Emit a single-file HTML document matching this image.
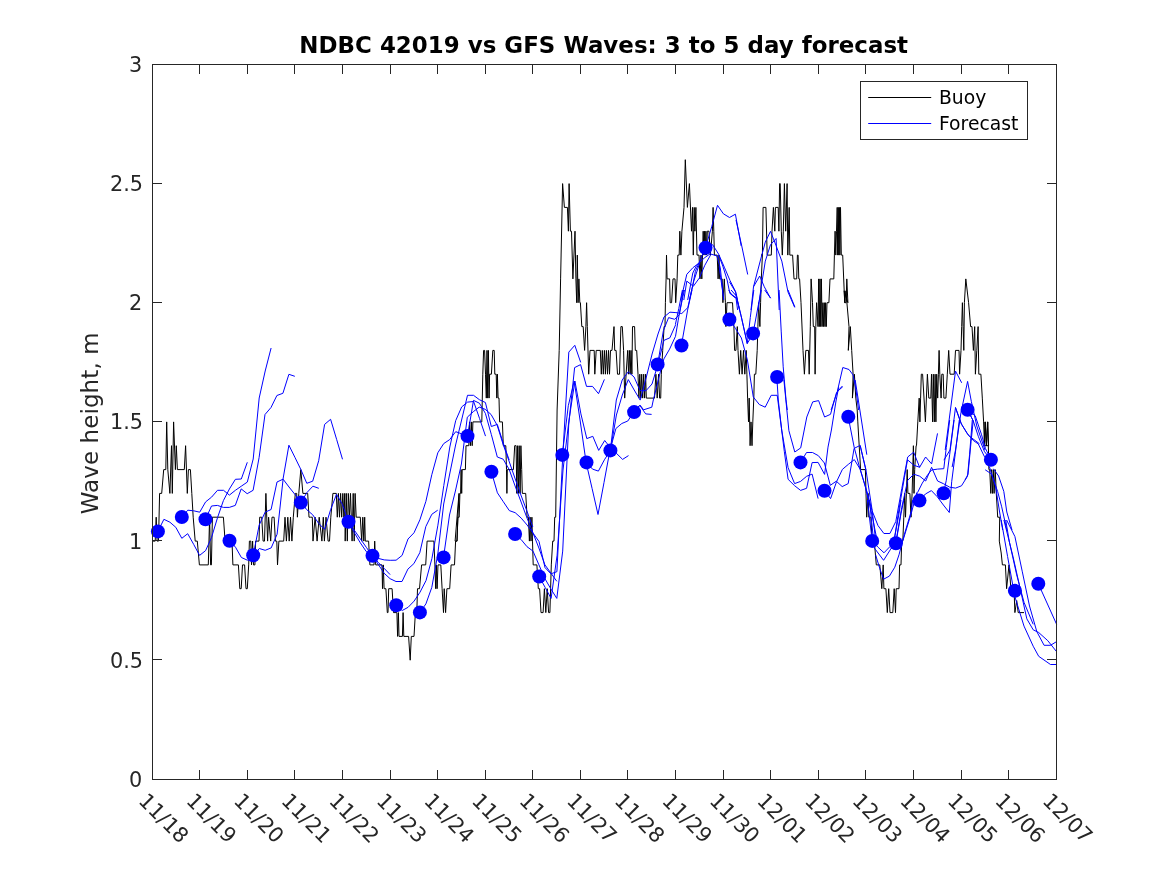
<!DOCTYPE html><html><head><meta charset="utf-8"><title>NDBC 42019 vs GFS Waves</title>
<style>html,body{margin:0;padding:0;background:#fff;}svg{display:block;font-family:"DejaVu Sans","Liberation Sans",sans-serif;}</style></head><body>
<svg width="1167" height="875" viewBox="0 0 1167 875">
<rect width="1167" height="875" fill="#fff"/>
<g fill="none" stroke-linejoin="round" stroke-width="1.0">
<polyline stroke="#000" points="152.7,541.1 155.2,541.1 156.2,517.2 157.1,541.1 158.5,541.1 159.6,493.4 161.7,493.4 163.7,469.6 165.8,469.6 166.7,421.9 167.8,469.6 169.9,493.4 171.5,445.7 172.3,493.4 173.6,421.9 175.4,469.6 176.3,445.7 177.4,469.6 184.3,469.6 185.6,445.7 187.3,493.4 188.4,469.6 190.4,469.6 191.8,493.4 193.2,517.2 195.2,541.1 197.3,541.1 199.4,564.9 208.3,564.9 209.6,517.2 210.6,564.9 211.4,564.9 212.4,517.2 223.4,517.2 225.1,541.1 232.0,541.1 232.9,564.9 238.4,564.9 239.8,588.7 241.2,588.7 242.5,564.9 244.6,564.9 246.0,588.7 247.3,588.7 248.7,564.9 249.4,541.1 250.8,541.1 251.5,564.9 252.6,541.1 253.5,564.9 254.9,564.9 255.6,541.1 259.0,541.1 259.7,517.2 261.7,517.2 263.1,541.1 264.5,541.1 265.9,493.4 267.6,541.1 268.6,517.2 270.7,541.1 272.0,517.2 274.1,517.2 275.4,541.1 276.8,541.1 277.5,564.9 278.9,541.1 283.7,541.1 285.0,517.2 286.4,541.1 287.8,517.2 289.2,541.1 290.5,517.2 291.9,541.1 293.3,517.2 295.3,493.4 296.7,493.4 297.4,517.2 298.8,493.4 300.8,469.6 302.9,493.4 307.7,493.4 309.0,517.2 310.3,517.2 312.3,517.2 313.0,541.1 315.1,517.2 317.1,541.1 319.2,517.2 321.9,541.1 323.3,517.2 324.4,541.1 326.0,517.2 328.1,541.1 329.5,541.1 330.8,517.2 332.9,493.4 336.3,493.4 337.3,517.2 338.4,493.4 339.5,517.2 340.6,493.4 341.7,517.2 342.8,493.4 343.9,517.2 344.7,493.4 345.2,541.1 346.3,493.4 347.3,541.1 348.3,493.4 349.4,517.2 350.5,493.4 352.1,541.1 353.2,493.4 354.2,541.1 355.1,493.4 356.2,517.2 360.3,517.2 361.7,541.1 362.8,517.2 363.8,541.1 364.7,517.2 365.3,541.1 368.6,541.1 369.9,564.9 374.0,564.9 374.7,541.1 375.7,564.9 382.0,564.9 382.5,588.7 383.3,564.9 384.1,588.7 385.9,588.7 387.3,612.6 388.0,612.6 388.7,588.7 392.1,588.7 393.5,612.6 396.9,612.6 397.6,636.4 398.4,612.6 399.0,636.4 402.4,636.4 403.1,612.6 403.8,636.4 408.6,636.4 410.2,660.2 411.3,636.4 414.0,636.4 415.4,612.6 416.8,612.6 417.5,588.7 419.5,588.7 421.6,564.9 425.7,564.9 427.1,541.1 433.9,541.1 434.9,564.9 435.7,588.7 436.4,564.9 437.1,588.7 438.0,564.9 440.8,564.9 442.1,588.7 443.5,612.6 444.2,588.7 445.6,612.6 446.9,588.7 449.7,588.7 451.1,564.9 454.5,564.9 455.6,541.1 456.9,541.1 459.0,493.4 455.1,541.1 457.1,541.1 457.8,517.2 459.2,517.2 459.9,493.4 460.6,493.4 461.1,469.6 461.7,493.4 462.2,469.6 465.4,469.6 466.0,445.7 468.8,445.7 469.5,421.9 470.4,445.7 471.3,421.9 472.2,445.7 472.9,421.9 481.8,421.9 482.8,374.2 483.6,350.4 484.6,350.4 485.5,374.2 486.3,398.1 487.0,350.4 487.7,398.1 488.4,350.4 489.1,398.1 489.6,374.2 491.4,374.2 492.8,350.4 494.2,350.4 494.8,374.2 496.2,374.2 496.8,398.1 497.4,374.2 498.1,398.1 499.0,398.1 499.6,421.9 502.4,421.9 503.3,445.7 505.8,445.7 506.5,469.6 506.9,493.4 507.3,469.6 513.4,469.6 514.7,445.7 516.1,445.7 516.8,493.4 517.6,445.7 518.4,493.4 519.2,445.7 520.1,493.4 520.9,445.7 521.7,469.6 522.3,493.4 525.7,493.4 527.1,517.2 528.4,517.2 529.4,541.1 530.2,517.2 531.0,541.1 531.9,517.2 532.5,541.1 533.2,564.9 534.8,564.9 536.9,564.9 538.3,588.7 539.6,588.7 541.0,612.6 543.1,612.6 544.4,588.7 545.8,612.6 547.2,588.7 548.6,612.6 549.9,612.6 550.6,588.7 551.3,564.9 552.7,541.1 554.0,541.1 554.7,517.2 555.7,517.2 557.1,410.0 559.2,350.4 560.6,278.9 562.6,183.6 564.4,207.4 567.4,207.4 568.4,231.2 569.1,183.6 570.4,231.2 571.5,231.2 572.9,278.9 575.0,231.2 575.9,278.9 576.7,302.7 577.3,255.1 578.1,302.7 578.9,278.9 579.8,302.7 580.4,302.7 581.8,326.6 583.2,326.6 584.6,350.4 585.9,326.6 586.6,302.7 587.3,326.6 588.7,374.2 590.0,350.4 594.2,350.4 594.8,374.2 596.2,350.4 600.3,350.4 601.3,374.2 602.3,350.4 603.3,374.2 604.4,350.4 605.4,374.2 606.4,350.4 607.5,374.2 608.5,350.4 609.5,374.2 610.5,350.4 612.0,350.4 614.0,326.6 614.7,350.4 616.1,350.4 617.5,374.2 619.5,374.2 620.9,326.6 622.3,326.6 623.6,350.4 624.7,398.1 626.1,374.2 627.7,350.4 628.6,374.2 629.4,350.4 630.2,374.2 631.0,350.4 631.9,374.2 632.5,326.6 634.6,326.6 635.3,350.4 636.7,350.4 638.0,374.2 638.9,398.1 639.8,374.2 640.8,398.1 641.7,374.2 642.7,398.1 643.7,374.2 644.6,398.1 645.6,374.2 646.3,398.1 654.5,398.1 655.9,374.2 657.2,398.1 658.6,374.2 659.6,398.1 660.7,398.1 661.3,374.2 662.7,350.4 664.1,326.6 665.0,326.6 665.4,302.7 666.1,278.9 666.5,255.1 667.1,278.9 669.6,278.9 670.2,302.7 671.6,302.7 673.0,278.9 675.0,278.9 675.7,302.7 677.1,278.9 677.8,255.1 679.2,255.1 679.8,231.2 680.9,255.1 681.9,231.2 684.0,207.4 685.3,159.7 687.4,207.4 689.4,183.6 691.5,231.2 692.5,207.4 693.3,255.1 694.2,207.4 694.9,231.2 695.9,207.4 697.0,255.1 699.0,255.1 700.0,278.9 701.0,255.1 701.8,278.9 703.2,231.2 703.9,255.1 704.6,231.2 705.3,255.1 705.9,231.2 706.6,255.1 707.3,231.2 709.0,231.2 710.3,255.1 712.4,231.2 713.1,207.4 713.8,231.2 714.4,255.1 717.2,255.1 718.1,278.9 719.0,255.1 719.6,278.9 722.2,278.9 722.9,302.7 724.3,278.9 725.4,302.7 725.9,326.6 727.0,302.7 731.1,302.7 732.5,302.7 733.9,326.6 734.6,350.4 735.9,350.4 737.3,326.6 738.0,350.4 739.4,374.2 740.7,350.4 742.1,374.2 743.5,350.4 744.8,374.2 746.2,350.4 746.9,374.2 747.6,398.1 748.5,421.9 749.2,398.1 750.1,445.7 751.0,421.9 752.0,445.7 752.8,421.9 753.8,398.1 754.4,374.2 755.8,374.2 757.2,350.4 757.9,326.6 758.6,302.7 759.9,326.6 760.6,302.7 761.3,278.9 762.4,255.1 761.1,255.1 762.4,255.1 763.1,207.4 765.9,207.4 767.2,255.1 771.3,255.1 772.0,231.2 773.4,207.4 774.8,231.2 775.4,207.4 778.2,207.4 778.9,231.2 779.6,183.6 780.2,183.6 781.3,231.2 782.3,255.1 783.3,231.2 784.4,183.6 785.7,231.2 787.1,183.6 787.8,255.1 789.2,207.4 789.8,255.1 792.6,255.1 794.0,278.9 796.7,278.9 797.4,255.1 798.1,255.1 798.8,278.9 799.6,278.9 801.0,302.7 803.0,350.4 804.4,374.2 805.8,350.4 808.5,350.4 809.2,374.2 810.3,326.6 811.1,278.9 812.5,302.7 813.3,326.6 814.7,326.6 815.1,374.2 815.8,326.6 816.6,302.7 818.0,326.6 818.7,278.9 819.3,326.6 820.0,278.9 820.7,326.6 821.4,278.9 822.1,326.6 822.9,302.7 823.6,326.6 824.3,302.7 825.0,326.6 825.6,302.7 826.3,326.6 827.0,302.7 828.9,302.7 830.0,278.9 830.1,278.9 833.8,278.9 834.4,255.1 835.1,231.2 835.8,255.1 836.5,231.2 837.2,207.4 837.7,255.1 838.3,207.4 838.8,255.1 839.4,207.4 839.9,255.1 840.5,207.4 841.3,255.1 842.7,255.1 844.7,302.7 846.1,302.7 846.8,278.9 847.9,302.7 844.2,290.8 844.8,302.7 845.9,290.8 846.9,302.7 849.0,326.6 848.3,350.4 850.3,326.6 851.7,350.4 853.1,374.2 852.4,398.1 854.4,374.2 855.8,398.1 857.2,410.0 857.8,421.9 859.2,445.7 860.6,469.6 865.4,469.6 866.0,493.4 866.7,517.2 868.1,493.4 868.8,517.2 870.8,517.2 872.2,541.1 874.3,541.1 876.3,564.9 879.8,564.9 881.8,588.7 883.2,564.9 883.9,588.7 885.9,588.7 887.3,612.6 888.7,588.7 890.0,612.6 892.8,612.6 894.2,588.7 895.5,612.6 896.2,588.7 899.0,588.7 899.6,564.9 901.0,564.9 901.7,541.1 902.8,541.1 903.8,517.2 904.7,493.4 905.5,517.2 906.4,493.4 907.2,469.6 907.9,493.4 909.9,493.4 911.0,517.2 912.1,493.4 913.4,445.7 914.0,493.4 914.7,469.6 916.1,445.7 916.5,445.7 917.8,421.9 919.2,398.1 919.9,421.9 920.6,398.1 921.3,374.2 922.6,374.2 925.4,421.9 927.4,374.2 928.8,398.1 930.8,398.1 931.5,374.2 932.6,421.9 933.3,374.2 934.3,421.9 935.1,374.2 935.9,421.9 936.7,374.2 937.7,398.1 938.4,374.2 939.1,350.4 939.8,374.2 941.1,398.1 941.8,374.2 943.2,374.2 943.9,398.1 945.9,398.1 947.3,374.2 948.7,350.4 950.0,374.2 954.2,374.2 955.5,350.4 959.0,350.4 959.6,374.2 961.0,350.4 961.7,326.6 962.4,302.7 963.1,326.6 963.8,350.4 964.4,302.7 965.8,278.9 968.6,302.7 970.6,326.6 972.0,326.6 973.4,350.4 974.7,326.6 975.4,374.2 976.8,350.4 978.1,326.6 978.8,374.2 980.9,374.2 982.3,398.1 983.6,421.9 984.5,445.7 985.3,421.9 986.4,445.7 987.5,421.9 988.6,445.7 984.0,445.7 985.1,421.9 986.4,445.7 987.8,421.9 988.9,469.6 989.7,469.6 990.8,493.4 991.6,469.6 992.5,493.4 993.3,469.6 994.1,493.4 995.2,469.6 996.3,493.4 997.7,517.2 999.7,517.2 999.3,541.1 1001.2,553.0 1002.4,564.9 1005.4,564.9 1006.6,588.7 1009.0,564.9 1010.9,588.7 1014.0,588.7 1014.9,612.6 1016.7,600.6 1018.2,612.6 1024.0,612.6"/>
<polyline stroke="#0000ff" points="157.9,531.4 163.9,519.3 169.9,522.2 175.8,527.3 181.8,538.3 187.7,533.7 193.7,544.4 199.6,555.4 205.6,550.6 211.5,537.6 217.5,517.7 223.4,500.6 229.4,489.0 235.4,479.3 241.3,479.0 247.3,462.3"/>
<polyline stroke="#0000ff" points="181.8,517.0 187.8,510.2 193.7,510.8 199.7,512.2 205.6,501.9 211.6,497.1 217.5,490.3 223.5,490.3 229.4,495.1 235.4,490.3 241.3,486.2 247.3,482.1 253.2,459.0 259.2,398.0 265.2,371.0 271.1,348.0"/>
<polyline stroke="#0000ff" points="205.5,519.3 211.5,506.0 217.4,505.4 223.4,507.4 229.3,507.4 235.3,505.4 241.2,488.9 247.2,493.7 253.1,490.3 259.1,457.5 265.0,414.5 271.0,407.5 276.9,395.5 282.9,393.3 288.9,374.3 294.8,376.3"/>
<polyline stroke="#0000ff" points="229.5,540.7 235.5,547.2 241.4,557.5 247.4,560.2 253.3,556.0 259.3,548.5 265.2,550.3 271.2,547.9 277.1,534.2 283.1,479.2 289.0,487.0 295.0,494.5 300.9,502.6 306.9,492.6 312.9,486.2 318.8,488.3"/>
<polyline stroke="#0000ff" points="253.2,555.3 259.2,525.0 265.1,512.2 271.1,509.5 277.0,482.0 283.0,479.2 288.9,445.2 294.9,457.3 300.8,469.4 306.8,483.3 312.7,481.2 318.7,460.7 324.6,424.4 330.6,419.3 336.6,439.3 342.5,459.3"/>
<polyline stroke="#0000ff" points="300.8,502.6 306.8,509.7 312.7,514.8 318.7,523.4 324.6,529.4 330.6,509.7 336.5,494.3 342.5,504.6 348.4,521.8 354.4,530.3 360.3,538.8 366.3,547.3 372.2,555.8 378.2,562.3 384.2,568.4 390.1,574.6"/>
<polyline stroke="#0000ff" points="348.4,521.8 354.4,532.8 360.3,542.8 366.3,551.6 372.2,555.8 378.2,564.3 384.1,573.2 390.1,578.7 396.0,581.5 402.0,581.5 407.9,569.1 413.9,563.6 419.8,552.7 425.8,526.6 431.8,514.3 437.7,510.2"/>
<polyline stroke="#0000ff" points="372.3,555.8 378.3,558.4 384.2,559.9 390.2,560.3 396.1,560.2 402.1,555.4 408.0,539.0 414.0,532.8 419.9,519.8 425.9,501.3 431.8,474.7 437.8,452.8 443.7,443.6 449.7,439.6 455.7,431.7 461.6,433.8"/>
<polyline stroke="#0000ff" points="396.2,605.2 402.2,610.5 408.1,607.3 414.1,601.1 420.0,592.2 426.0,580.6 431.9,558.6 437.9,525.2 443.8,485.5 449.8,447.0 455.7,420.6 461.7,406.9 467.6,402.1 473.6,401.5 479.6,418.6 485.5,436.1"/>
<polyline stroke="#0000ff" points="419.9,612.4 425.9,603.9 431.8,587.4 437.8,554.0 443.7,504.0 449.7,474.0 455.6,445.0 461.6,420.0 467.5,395.3 473.5,395.3 479.4,399.7 485.4,402.5 491.3,426.5 497.3,424.4 503.3,443.3 509.2,460.0"/>
<polyline stroke="#0000ff" points="443.5,557.5 449.5,515.0 455.4,491.0 461.4,464.0 467.3,417.2 473.3,411.7 479.2,407.1 485.2,409.3 491.1,414.5 497.1,425.1 503.0,444.0 509.0,461.0 514.9,478.0 520.9,495.0 526.9,511.0 532.8,527.0"/>
<polyline stroke="#0000ff" points="467.5,436.1 473.5,400.4 479.4,403.2 485.4,413.4 491.3,434.4 497.3,457.0 503.2,459.2 509.2,469.5 515.1,486.0 521.1,502.0 527.0,518.0 533.0,533.0 538.9,548.0 544.9,564.8 550.9,573.1 556.8,581.3"/>
<polyline stroke="#0000ff" points="491.4,471.8 497.4,492.8 503.3,501.7 509.3,510.6 515.2,512.7 521.2,518.1 527.1,525.0 533.1,533.2 539.0,541.5 545.0,567.6 550.9,573.8 556.9,571.7 562.8,455.0 568.8,352.1 574.8,345.3 580.7,362.4"/>
<polyline stroke="#0000ff" points="515.1,534.0 521.1,539.5 527.0,546.7 533.0,551.1 538.9,564.8 544.9,578.6 550.8,588.8 556.8,598.4 562.7,551.1 568.7,425.0 574.6,367.6 580.6,364.6 586.5,386.4 592.5,386.4 598.5,393.7 604.4,379.4"/>
<polyline stroke="#0000ff" points="539.2,576.5 545.2,587.5 551.1,598.4 557.1,555.2 563.0,470.0 569.0,420.0 574.9,381.0 580.9,413.9 586.8,438.6 592.8,436.3 598.7,450.4 604.7,440.5 610.6,448.0 616.6,453.5 622.6,459.4 628.5,455.6"/>
<polyline stroke="#0000ff" points="562.3,454.9 568.3,405.7 574.2,381.0 580.2,421.0 586.1,462.4 592.1,488.5 598.0,514.5 604.0,482.5 609.9,450.6 615.9,428.5 621.8,423.5 627.8,421.0 633.7,412.1 639.7,405.2 645.7,413.9 651.6,414.4"/>
<polyline stroke="#0000ff" points="586.5,462.4 592.5,469.1 598.4,471.1 604.4,459.8 610.3,450.6 616.3,400.0 622.2,380.0 628.2,371.8 634.1,377.0 640.1,390.7 646.0,390.7 652.0,384.0 657.9,364.5 663.9,340.4 669.9,337.8 675.8,324.4"/>
<polyline stroke="#0000ff" points="610.4,450.6 616.4,415.0 622.3,395.0 628.3,379.6 634.2,390.0 640.2,400.1 646.1,378.0 652.1,354.0 658.0,334.0 664.0,317.0 669.9,312.2 675.9,312.6 681.8,313.5 687.8,307.6 693.8,281.0 699.7,263.0"/>
<polyline stroke="#0000ff" points="675.4,324.4 678.8,308.5 682.4,290.0"/>
<polyline stroke="#0000ff" points="657.6,364.6 663.4,330.6 668.6,317.6 674.7,319.3 679.2,314.7 683.0,296.2 684.5,290.0"/>
<polyline stroke="#0000ff" points="683.8,300.0 686.8,281.1 693.3,286.3 699.3,278.1 704.8,265.3 710.8,254.6"/>
<polyline stroke="#0000ff" points="634.1,412.1 640.1,405.2 643.6,409.8 651.8,407.2 653.3,400.0 656.9,385.8 660.5,371.0 663.9,358.9 669.6,349.1 675.5,336.3 678.1,320.8 681.4,302.3 683.5,290.0"/>
<polyline stroke="#0000ff" points="681.4,345.5 687.6,310.1 692.0,290.0"/>
<polyline stroke="#0000ff" points="680.8,300.0 686.8,274.3 692.8,267.8 698.8,263.1 704.8,257.6 710.8,253.3"/>
<polyline stroke="#0000ff" points="687.7,300.0 692.8,273.0 696.3,266.1 698.8,263.1"/>
<polyline stroke="#0000ff" points="689.4,300.0 692.8,285.0 695.4,271.3 698.0,265.3 705.5,247.7"/>
<polyline stroke="#0000ff" points="705.5,247.6 711.7,226.8 717.5,205.3 723.4,213.8 729.5,217.5 735.4,214.2 741.2,246.0"/>
<polyline stroke="#0000ff" points="736.0,220.0 741.7,245.7 747.7,274.5"/>
<polyline stroke="#0000ff" points="705.5,247.7 712.6,244.7 718.6,254.1 724.6,267.8 730.1,280.7 735.7,291.8 737.4,300.0"/>
<polyline stroke="#0000ff" points="710.8,254.1 716.8,255.8 720.3,267.8 723.7,300.0"/>
<polyline stroke="#0000ff" points="718.6,255.0 722.8,266.1 727.1,279.8 729.7,292.7 735.7,297.8"/>
<polyline stroke="#0000ff" points="719.1,266.3 723.7,299.2"/>
<polyline stroke="#0000ff" points="729.4,281.7 735.5,292.0 739.6,310.0"/>
<polyline stroke="#0000ff" points="729.4,293.0 736.0,298.1 737.6,310.0"/>
<polyline stroke="#0000ff" points="731.1,290.0 735.9,295.5 741.4,317.4 747.3,343.5 750.3,317.4 753.8,290.0"/>
<polyline stroke="#0000ff" points="753.1,333.2 758.6,303.7 761.3,290.0"/>
<polyline stroke="#0000ff" points="764.7,290.0 770.6,298.2"/>
<polyline stroke="#0000ff" points="788.0,290.0 794.9,307.1"/>
<polyline stroke="#0000ff" points="728.7,290.0 731.8,295.1 735.4,297.7 736.9,296.2 735.9,294.1 741.1,315.7 747.2,343.5 752.4,335.2"/>
<polyline stroke="#0000ff" points="751.0,310.0 753.5,286.8 759.7,276.0 764.3,286.8 770.5,298.1"/>
<polyline stroke="#0000ff" points="758.1,310.0 761.2,286.8 765.3,261.1 770.5,244.7 776.1,238.5 779.2,310.0"/>
<polyline stroke="#0000ff" points="753.5,286.8 760.2,261.1 765.3,242.1 770.5,231.3 776.1,245.7 781.8,261.1 788.0,292.0 794.7,307.4"/>
<polyline stroke="#0000ff" points="729.5,319.5 735.5,328.5 741.4,338.0 747.4,360.0 753.3,397.0 759.3,404.5 765.2,407.2 771.2,395.3 777.1,395.3"/>
<polyline stroke="#0000ff" points="777.2,395.3 781.7,430.0 788.1,467.7 794.6,483.6 800.6,481.4 806.6,476.3 812.1,474.1 818.1,498.6"/>
<polyline stroke="#0000ff" points="779.1,290.0 781.2,331.1 783.2,366.8 786.0,399.7 787.3,410.0"/>
<polyline stroke="#0000ff" points="783.9,380.0 788.9,430.7 794.8,452.0 800.7,447.9 806.8,417.0 812.7,401.9 818.6,400.6 824.6,417.0 830.5,414.3 836.4,393.0 842.1,386.2"/>
<polyline stroke="#0000ff" points="777.0,380.3 778.3,400.0 781.7,430.0 784.3,451.4 788.1,479.3 794.6,485.7 800.6,490.4 806.6,488.3 812.1,462.6 818.1,462.4 824.6,474.4 828.0,447.1 831.4,430.0 836.0,401.0 838.7,387.2"/>
<polyline stroke="#0000ff" points="831.1,410.0 837.3,391.5 842.8,367.5 849.0,369.5 853.1,375.0 855.8,388.7 858.6,410.0"/>
<polyline stroke="#0000ff" points="837.3,391.5 842.8,386.7"/>
<polyline stroke="#0000ff" points="855.2,380.0 866.8,454.7"/>
<polyline stroke="#0000ff" points="800.6,462.4 806.5,452.5 812.5,452.5 818.4,455.7 824.4,463.0 830.3,485.3 836.3,481.2 842.2,486.6 848.2,483.6 854.1,448.4 860.1,445.4 866.0,470.3"/>
<polyline stroke="#0000ff" points="860.2,445.4 866.0,470.3 872.2,510.5 875.6,540.0"/>
<polyline stroke="#0000ff" points="824.6,490.8 830.6,498.6 836.5,481.8 842.4,469.4 848.4,464.3 854.3,459.6 860.3,469.4 866.2,490.0 870.0,505.0"/>
<polyline stroke="#0000ff" points="866.2,489.9 872.2,516.0 877.0,540.0"/>
<polyline stroke="#0000ff" points="848.2,416.7 854.2,447.4 860.1,469.4 866.1,488.6 872.0,510.5 878.0,525.6 883.9,533.5 889.9,533.5 895.8,521.5 901.8,488.6 907.7,457.0 913.7,452.2 919.6,467.3 925.6,457.0 931.6,463.9 937.5,433.4"/>
<polyline stroke="#0000ff" points="867.4,500.0 872.2,540.9 878.1,547.3 884.0,552.8 889.9,546.6 895.9,543.2"/>
<polyline stroke="#0000ff" points="869.5,500.0 874.3,548.0 883.6,560.3 891.4,548.0 894.2,539.8 899.0,513.7 901.0,500.0"/>
<polyline stroke="#0000ff" points="875.6,554.8 879.8,568.6 883.6,579.2 889.4,576.1 894.8,567.2 899.0,554.8 904.4,534.3 911.3,511.0 912.7,500.0"/>
<polyline stroke="#0000ff" points="895.9,543.2 901.0,513.7 903.8,500.0"/>
<polyline stroke="#0000ff" points="894.2,540.0 899.0,509.1 904.4,477.6 907.5,459.8 913.8,465.2 919.7,467.3"/>
<polyline stroke="#0000ff" points="896.2,540.0 901.7,507.7 907.7,480.3 913.8,474.2 919.7,476.2 925.7,481.0 931.6,467.3 937.6,481.0 943.7,483.8 949.7,487.2 955.6,488.1 961.5,485.8 967.5,476.2 969.6,454.3 972.3,420.0"/>
<polyline stroke="#0000ff" points="903.1,540.0 911.3,513.2 916.8,492.7 919.5,500.6"/>
<polyline stroke="#0000ff" points="917.5,492.7 922.3,483.1 927.7,474.8 931.6,470.0 937.6,469.1 943.8,468.7 946.3,447.4 949.7,420.0"/>
<polyline stroke="#0000ff" points="919.5,500.6 925.4,494.0 931.4,490.6 937.3,496.8 943.4,505.0 949.3,512.5 951.7,481.7 955.2,454.3 959.3,420.0"/>
<polyline stroke="#0000ff" points="943.5,493.4 946.3,480.3 949.7,454.3 954.1,420.0"/>
<polyline stroke="#0000ff" points="945.2,450.0 955.5,371.1 961.7,382.8"/>
<polyline stroke="#0000ff" points="943.9,460.2 950.0,450.0 955.5,407.5 961.7,424.6 968.6,435.6 979.5,443.8"/>
<polyline stroke="#0000ff" points="952.1,467.1 955.5,450.0 961.0,412.3 967.6,381.4 971.3,401.3 976.8,426.0 985.0,450.0"/>
<polyline stroke="#0000ff" points="965.0,480.0 968.0,474.3 971.1,441.4 973.2,420.8 967.5,409.7"/>
<polyline stroke="#0000ff" points="955.4,407.5 960.8,422.9 967.0,433.2 973.2,440.4 978.3,444.0 984.5,456.8 991.0,459.7"/>
<polyline stroke="#0000ff" points="967.5,409.7 975.2,415.7 981.4,434.2 985.5,448.6 991.0,459.7"/>
<polyline stroke="#0000ff" points="967.5,409.7 973.2,420.8 978.3,436.3 984.5,451.7 991.0,459.7"/>
<polyline stroke="#0000ff" points="985.2,469.8 991.4,473.9 997.6,491.4 1001.7,506.8 1006.8,530.0"/>
<polyline stroke="#0000ff" points="993.5,468.8 998.6,476.0 1003.8,491.4 1006.8,512.0 1012.0,530.0"/>
<polyline stroke="#0000ff" points="989.4,466.7 995.5,486.3 999.6,512.0 1002.7,530.0"/>
<polyline stroke="#0000ff" points="1001.2,520.0 1007.6,556.6 1014.9,596.8 1024.0,626.1 1033.2,646.2 1038.7,656.3 1050.5,664.5 1056.6,664.5"/>
<polyline stroke="#0000ff" points="1003.9,520.0 1013.0,556.6 1020.4,589.5 1026.8,618.8 1033.2,629.8 1038.7,632.5 1047.8,640.7 1056.6,651.7"/>
<polyline stroke="#0000ff" points="1006.6,520.0 1014.9,536.5 1022.2,571.2 1029.5,606.0 1036.8,631.6 1044.1,645.3 1050.5,645.3 1056.6,641.6"/>
<polyline stroke="#0000ff" points="1005.7,520.0 1009.4,542.0 1016.7,574.9 1024.0,602.3 1033.2,624.3"/>
<polyline stroke="#0000ff" points="1038.3,583.7 1056.6,624.3"/>
</g>
<g fill="#0000ff">
<circle cx="157.9" cy="531.4" r="7.0"/>
<circle cx="181.8" cy="517.0" r="7.0"/>
<circle cx="205.5" cy="519.3" r="7.0"/>
<circle cx="229.5" cy="540.7" r="7.0"/>
<circle cx="253.2" cy="555.3" r="7.0"/>
<circle cx="300.8" cy="502.6" r="7.0"/>
<circle cx="348.5" cy="521.8" r="7.0"/>
<circle cx="372.5" cy="555.8" r="7.0"/>
<circle cx="396.2" cy="605.2" r="7.0"/>
<circle cx="419.9" cy="612.4" r="7.0"/>
<circle cx="443.6" cy="557.4" r="7.0"/>
<circle cx="467.5" cy="436.1" r="7.0"/>
<circle cx="491.4" cy="471.8" r="7.0"/>
<circle cx="515.1" cy="534.0" r="7.0"/>
<circle cx="539.2" cy="576.5" r="7.0"/>
<circle cx="562.3" cy="454.9" r="7.0"/>
<circle cx="586.5" cy="462.4" r="7.0"/>
<circle cx="610.4" cy="450.4" r="7.0"/>
<circle cx="634.1" cy="412.1" r="7.0"/>
<circle cx="657.6" cy="364.4" r="7.0"/>
<circle cx="681.5" cy="345.5" r="7.0"/>
<circle cx="705.5" cy="247.7" r="7.0"/>
<circle cx="729.4" cy="319.5" r="7.0"/>
<circle cx="753.1" cy="333.4" r="7.0"/>
<circle cx="777.1" cy="377.0" r="7.0"/>
<circle cx="800.5" cy="462.4" r="7.0"/>
<circle cx="824.5" cy="490.8" r="7.0"/>
<circle cx="848.3" cy="416.7" r="7.0"/>
<circle cx="872.2" cy="540.9" r="7.0"/>
<circle cx="895.9" cy="543.2" r="7.0"/>
<circle cx="919.5" cy="500.6" r="7.0"/>
<circle cx="943.7" cy="493.3" r="7.0"/>
<circle cx="967.6" cy="409.8" r="7.0"/>
<circle cx="990.9" cy="459.8" r="7.0"/>
<circle cx="1014.9" cy="590.8" r="7.0"/>
<circle cx="1038.3" cy="583.7" r="7.0"/>
</g>
<g stroke="#262626" stroke-width="1" fill="none" shape-rendering="crispEdges">
<rect x="152.5" y="64.5" width="904.0" height="715.0"/>
<path d="M199.5 64.5v9.5 M199.5 779.5v-9.5"/>
<path d="M247.5 64.5v9.5 M247.5 779.5v-9.5"/>
<path d="M294.5 64.5v9.5 M294.5 779.5v-9.5"/>
<path d="M342.5 64.5v9.5 M342.5 779.5v-9.5"/>
<path d="M390.5 64.5v9.5 M390.5 779.5v-9.5"/>
<path d="M437.5 64.5v9.5 M437.5 779.5v-9.5"/>
<path d="M485.5 64.5v9.5 M485.5 779.5v-9.5"/>
<path d="M532.5 64.5v9.5 M532.5 779.5v-9.5"/>
<path d="M580.5 64.5v9.5 M580.5 779.5v-9.5"/>
<path d="M627.5 64.5v9.5 M627.5 779.5v-9.5"/>
<path d="M675.5 64.5v9.5 M675.5 779.5v-9.5"/>
<path d="M723.5 64.5v9.5 M723.5 779.5v-9.5"/>
<path d="M770.5 64.5v9.5 M770.5 779.5v-9.5"/>
<path d="M818.5 64.5v9.5 M818.5 779.5v-9.5"/>
<path d="M865.5 64.5v9.5 M865.5 779.5v-9.5"/>
<path d="M913.5 64.5v9.5 M913.5 779.5v-9.5"/>
<path d="M961.5 64.5v9.5 M961.5 779.5v-9.5"/>
<path d="M1008.5 64.5v9.5 M1008.5 779.5v-9.5"/>
<path d="M152.5 659.5h9.5 M1056.5 659.5h-9.5"/>
<path d="M152.5 540.5h9.5 M1056.5 540.5h-9.5"/>
<path d="M152.5 421.5h9.5 M1056.5 421.5h-9.5"/>
<path d="M152.5 302.5h9.5 M1056.5 302.5h-9.5"/>
<path d="M152.5 183.5h9.5 M1056.5 183.5h-9.5"/>
</g>
<g fill="#262626" font-size="20.8">
<text x="142.2" y="786.95" text-anchor="end">0</text>
<text x="143.1" y="667.78" text-anchor="end">0.5</text>
<text x="142.2" y="548.62" text-anchor="end">1</text>
<text x="143.1" y="429.45" text-anchor="end">1.5</text>
<text x="142.2" y="310.28" text-anchor="end">2</text>
<text x="143.1" y="191.12" text-anchor="end">2.5</text>
<text x="142.2" y="71.95" text-anchor="end">3</text>
<text transform="translate(137.6 802.1) rotate(45)" x="0" y="0">11/18</text>
<text transform="translate(185.2 802.1) rotate(45)" x="0" y="0">11/19</text>
<text transform="translate(232.8 802.1) rotate(45)" x="0" y="0">11/20</text>
<text transform="translate(280.3 802.1) rotate(45)" x="0" y="0">11/21</text>
<text transform="translate(327.9 802.1) rotate(45)" x="0" y="0">11/22</text>
<text transform="translate(375.5 802.1) rotate(45)" x="0" y="0">11/23</text>
<text transform="translate(423.1 802.1) rotate(45)" x="0" y="0">11/24</text>
<text transform="translate(470.7 802.1) rotate(45)" x="0" y="0">11/25</text>
<text transform="translate(518.2 802.1) rotate(45)" x="0" y="0">11/26</text>
<text transform="translate(565.8 802.1) rotate(45)" x="0" y="0">11/27</text>
<text transform="translate(613.4 802.1) rotate(45)" x="0" y="0">11/28</text>
<text transform="translate(661.0 802.1) rotate(45)" x="0" y="0">11/29</text>
<text transform="translate(708.5 802.1) rotate(45)" x="0" y="0">11/30</text>
<text transform="translate(756.1 802.1) rotate(45)" x="0" y="0">12/01</text>
<text transform="translate(803.7 802.1) rotate(45)" x="0" y="0">12/02</text>
<text transform="translate(851.3 802.1) rotate(45)" x="0" y="0">12/03</text>
<text transform="translate(898.9 802.1) rotate(45)" x="0" y="0">12/04</text>
<text transform="translate(946.4 802.1) rotate(45)" x="0" y="0">12/05</text>
<text transform="translate(994.0 802.1) rotate(45)" x="0" y="0">12/06</text>
<text transform="translate(1041.6 802.1) rotate(45)" x="0" y="0">12/07</text>
</g>
<text x="603.7" y="53" text-anchor="middle" font-size="22.9" font-weight="bold" fill="#000" letter-spacing="0.041">NDBC 42019 vs GFS Waves: 3 to 5 day forecast</text>
<text transform="translate(98.2 423.3) rotate(-90)" text-anchor="middle" font-size="22.9" fill="#262626" letter-spacing="0.15">Wave height, m</text>
<rect x="860.5" y="81.5" width="167" height="58" fill="#fff" stroke="#262626" stroke-width="1" shape-rendering="crispEdges"/>
<path d="M868.2 97.5H931.2" stroke="#000" stroke-width="1.05"/>
<path d="M868.2 123.5H931.2" stroke="#0000ff" stroke-width="1.05"/>
<g fill="#000" font-size="18.75"><text x="939" y="104">Buoy</text><text x="939" y="130">Forecast</text></g>
</svg></body></html>
